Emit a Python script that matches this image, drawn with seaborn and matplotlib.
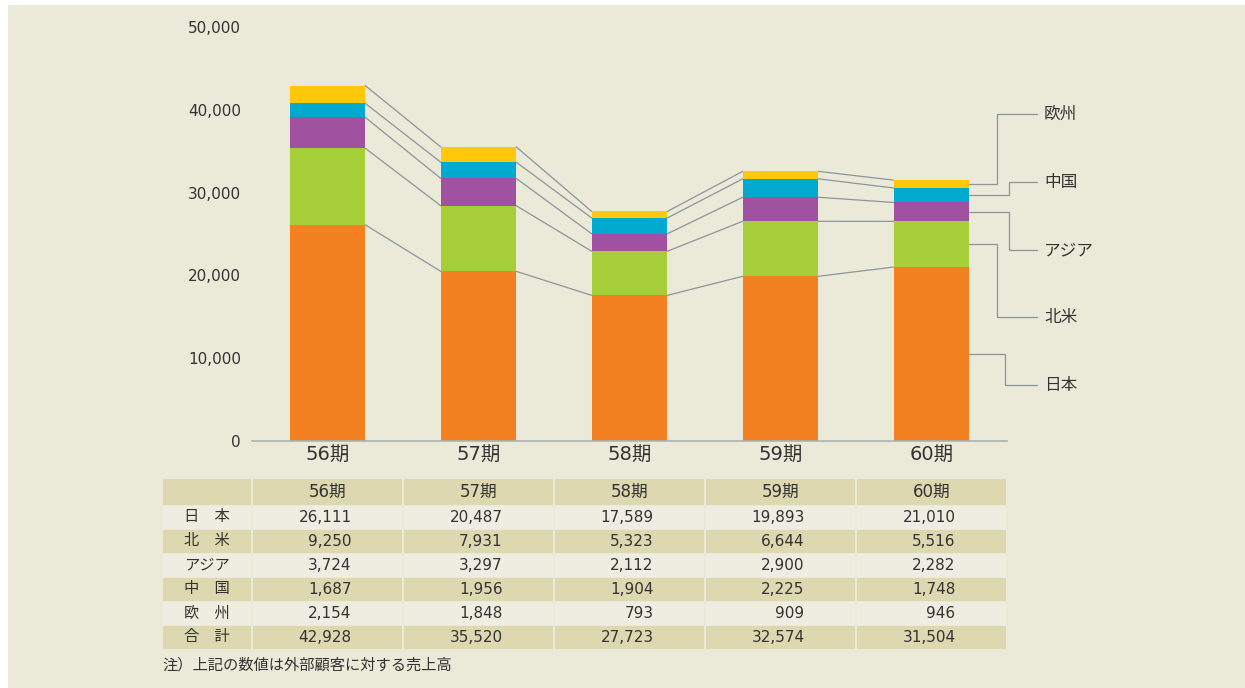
import numpy as np
import pandas as pd
import matplotlib
matplotlib.use("Agg")
import matplotlib.pyplot as plt
import seaborn as sns
from matplotlib.patches import Rectangle

# data
periods = ["56期", "57期", "58期", "59期", "60期"]
regions = ["日本", "北米", "アジア", "中国", "欧州"]
row_labels = ["日　本", "北　米", "アジア", "中　国", "欧　州", "合　計"]
japan = [26111, 20487, 17589, 19893, 21010]
north_america = [9250, 7931, 5323, 6644, 5516]
asia = [3724, 3297, 2112, 2900, 2282]
china = [1687, 1956, 1904, 2225, 1748]
europe = [2154, 1848, 793, 909, 946]
totals = [42928, 35520, 27723, 32574, 31504]
yticks = [0, 10000, 20000, 30000, 40000, 50000]
note = "注）上記の数値は外部顧客に対する売上高"

colors = ["#f38121", "#a6ce39", "#a0519f", "#00a9ce", "#ffc80b"]
BG = "#ebe9d8"
SHADE = "#ddd8b0"
LIGHT = "#efede1"
LINE = "#8a969c"
TEXT = "#333333"

sns.set_theme(style="white")
plt.rcParams["font.family"] = ["DejaVu Sans", "Noto Sans CJK JP"]

series = [japan, north_america, asia, china, europe]
df = pd.DataFrame(dict(zip(regions, series)), index=periods)
cum = df.cumsum(axis=1)

fig = plt.figure(figsize=(12.45, 6.88), dpi=100, facecolor="white")
fig.patches.append(Rectangle((8 / 1245, 0), 1, 1 - 5 / 688, transform=fig.transFigure,
                             facecolor=BG, edgecolor="none", zorder=-10))

ax = fig.add_axes([252 / 1245, 1 - 441 / 688, 755 / 1245, 414 / 688])
ax.set_facecolor("none")

# stacked bars: draw cumulative totals from the top layer down
for i in range(len(regions) - 1, -1, -1):
    sns.barplot(x=periods, y=cum[regions[i]].values, color=colors[i], width=0.5,
                saturation=1, ax=ax, linewidth=0, zorder=2)

# connector lines between bars
hw = 0.25
for r in regions:
    vals = cum[r].values
    for j in range(len(periods) - 1):
        ax.plot([j + hw, j + 1 - hw], [vals[j], vals[j + 1]], color=LINE, lw=0.9, zorder=1)

# leader lines to region labels on the right
last = len(periods) - 1
bottoms = np.concatenate([[0], cum.iloc[last].values[:-1]])
tops = cum.iloc[last].values
label_y = [6763, 14976, 23068, 31280, 39493]
elbow_x = [4.49, 4.437, 4.51, 4.51, 4.437]
for k, r in enumerate(regions):
    mid = (bottoms[k] + tops[k]) / 2
    ax.plot([last + hw, elbow_x[k], elbow_x[k], 4.70], [mid, mid, label_y[k], label_y[k]],
            color=LINE, lw=0.9, clip_on=False, zorder=1)
    ax.text(4.745, label_y[k], r, ha="left", va="center", fontsize=12, color=TEXT)

ax.set_xlim(-0.5, 4.5)
ax.set_ylim(0, 50000)
ax.set_yticks(yticks)
ax.set_yticklabels([f"{v:,}" for v in yticks], fontsize=11, color=TEXT)
ax.tick_params(axis="y", length=0, pad=8)
ax.tick_params(axis="x", length=0, labelsize=14, labelcolor=TEXT, pad=3)
ax.set_xlabel("")
for s in ["top", "right", "left"]:
    ax.spines[s].set_visible(False)
ax.spines["bottom"].set_color("#a9b3b5")
ax.spines["bottom"].set_linewidth(1.2)
ax.grid(False)

# table below
tab = fig.add_axes([162 / 1245, 1 - 651 / 688, 845 / 1245, 173 / 688])
tab.set_xlim(0, 845)
tab.set_ylim(173, 0)
tab.axis("off")
col_edges = [0, 90] + [90 + 151 * (j + 1) for j in range(len(periods))]
row_edges = [0, 27] + [27 + 24 * (i + 1) for i in range(len(row_labels))]
table_vals = series + [totals]
for i in range(len(row_labels) + 1):
    y0, y1 = row_edges[i], row_edges[i + 1]
    fill = SHADE if i % 2 == 0 else LIGHT
    for j in range(len(col_edges) - 1):
        x0, x1 = col_edges[j], col_edges[j + 1]
        tab.add_patch(Rectangle((x0 + 1, y0 + 0.5), x1 - x0 - 2, y1 - y0 - 1,
                                facecolor=fill, edgecolor="none"))
    yc = (y0 + y1) / 2
    if i == 0:
        for j, p in enumerate(periods):
            xc = (col_edges[j + 1] + col_edges[j + 2]) / 2
            tab.text(xc, yc, p, ha="center", va="center", fontsize=12, color=TEXT)
    else:
        tab.text(45, yc, row_labels[i - 1], ha="center", va="center", fontsize=11, color=TEXT)
        for j, v in enumerate(table_vals[i - 1]):
            xc = (col_edges[j + 1] + col_edges[j + 2]) / 2
            tab.text(xc + 24, yc, f"{v:,}", ha="right", va="center", fontsize=11, color=TEXT)

fig.text(162 / 1245, 1 - 665 / 688, note, ha="left", va="center", fontsize=11, color=TEXT)

fig.savefig("out.png", dpi=100, facecolor=fig.get_facecolor())
